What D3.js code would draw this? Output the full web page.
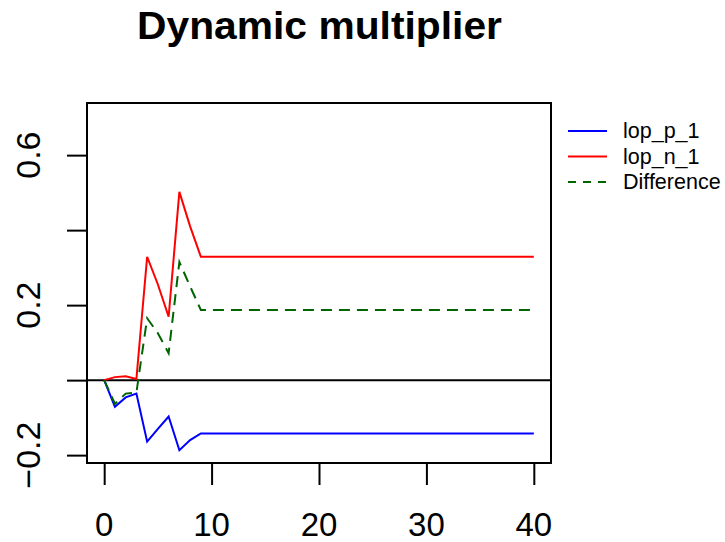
<!DOCTYPE html>
<html>
<meta charset="utf-8">
<head>
  <title>Dynamic multiplier</title>
</head>

<style>
body { margin: 0; background: white; }
text { font-family: "Liberation Sans", Arial, sans-serif; fill: black; }
.axis path, .axis line { stroke: black; stroke-width: 2; }
</style>

<body>
  <svg width="725" height="542"></svg>

  <script src="https://cdnjs.cloudflare.com/ajax/libs/d3/7.8.5/d3.min.js"></script>
  <script>
var horizon = d3.range(0, 41);

var lopP = [0, -0.071, -0.046, -0.036, -0.164, -0.130, -0.097, -0.187, -0.160, -0.142,
  -0.142, -0.142, -0.142, -0.142, -0.142, -0.142, -0.142, -0.142, -0.142, -0.142,
  -0.142, -0.142, -0.142, -0.142, -0.142, -0.142, -0.142, -0.142, -0.142, -0.142,
  -0.142, -0.142, -0.142, -0.142, -0.142, -0.142, -0.142, -0.142, -0.142, -0.142, -0.142];

var lopN = [0, 0.008, 0.010, 0.003, 0.329, 0.255, 0.169, 0.502, 0.410, 0.329,
  0.329, 0.329, 0.329, 0.329, 0.329, 0.329, 0.329, 0.329, 0.329, 0.329,
  0.329, 0.329, 0.329, 0.329, 0.329, 0.329, 0.329, 0.329, 0.329, 0.329,
  0.329, 0.329, 0.329, 0.329, 0.329, 0.329, 0.329, 0.329, 0.329, 0.329, 0.329];

var diff = [0, -0.063, -0.036, -0.033, 0.165, 0.125, 0.072, 0.315, 0.250, 0.187,
  0.187, 0.187, 0.187, 0.187, 0.187, 0.187, 0.187, 0.187, 0.187, 0.187,
  0.187, 0.187, 0.187, 0.187, 0.187, 0.187, 0.187, 0.187, 0.187, 0.187,
  0.187, 0.187, 0.187, 0.187, 0.187, 0.187, 0.187, 0.187, 0.187, 0.187, 0.187];

var xTicks = [0, 10, 20, 30, 40];
var yTicks = [-0.2, 0, 0.2, 0.4, 0.6];
var yLabels = [-0.2, 0.2, 0.6];

var series = [
  {name: "lop_p_1", values: lopP, color: "#0000ff", dash: null},
  {name: "lop_n_1", values: lopN, color: "#ff0000", dash: null},
  {name: "Difference", values: diff, color: "#006400", dash: "11,7"}
];

var box = {left: 87, right: 551, top: 103, bottom: 463};

var x = d3.scaleLinear().domain([-1.6, 41.6]).range([box.left, box.right]);
var y = d3.scaleLinear().domain([-0.221, 0.739]).range([box.bottom, box.top]);

var svg = d3.select('svg');

// title
svg.append('text')
  .attr('x', 319.5)
  .attr('y', 39)
  .attr('text-anchor', 'middle')
  .attr('textLength', 365)
  .attr('lengthAdjust', 'spacingAndGlyphs')
  .style('font-size', '39px')
  .style('font-weight', 'bold')
  .text('Dynamic multiplier');

// zero line
svg.append('line')
  .attr('x1', box.left).attr('x2', box.right)
  .attr('y1', y(0)).attr('y2', y(0))
  .attr('stroke', 'black')
  .attr('stroke-width', 2);

var line = d3.line()
  .x(function(d, i) { return x(horizon[i]); })
  .y(function(d) { return y(d); });

svg.selectAll('path.series')
  .data(series)
  .enter()
  .append('path')
  .attr('class', 'series')
  .attr('fill', 'none')
  .attr('stroke', function(d) { return d.color; })
  .attr('stroke-width', 2)
  .attr('stroke-dasharray', function(d) { return d.dash; })
  .attr('d', function(d) { return line(d.values); });

// plot box
svg.append('rect')
  .attr('x', box.left).attr('y', box.top)
  .attr('width', box.right - box.left)
  .attr('height', box.bottom - box.top)
  .attr('fill', 'none')
  .attr('stroke', 'black')
  .attr('stroke-width', 2);

// x axis
var xAxis = svg.append('g')
  .attr('class', 'axis')
  .attr('transform', 'translate(0,' + box.bottom + ')')
  .call(d3.axisBottom(x).tickValues(xTicks).tickSize(22).tickFormat(''));
xAxis.select('.domain').remove();

svg.selectAll('text.xlab')
  .data(xTicks)
  .enter()
  .append('text')
  .attr('class', 'xlab')
  .attr('x', function(d) { return x(d); })
  .attr('y', 536)
  .attr('text-anchor', 'middle')
  .style('font-size', '33px')
  .text(function(d) { return d; });

// y axis
var yAxis = svg.append('g')
  .attr('class', 'axis')
  .attr('transform', 'translate(' + box.left + ',0)')
  .call(d3.axisLeft(y).tickValues(yTicks).tickSize(20).tickFormat(''));
yAxis.select('.domain').remove();

svg.selectAll('text.ylab')
  .data(yLabels)
  .enter()
  .append('text')
  .attr('class', 'ylab')
  .attr('transform', function(d) { return 'translate(40,' + y(d) + ') rotate(-90)'; })
  .attr('text-anchor', 'middle')
  .style('font-size', '34px')
  .text(function(d) { return d3.format('.1f')(d); });

// legend
var legend = svg.selectAll('g.legend')
  .data(series)
  .enter()
  .append('g')
  .attr('class', 'legend')
  .attr('transform', function(d, i) { return 'translate(568,' + (131 + i * 25.5) + ')'; });

legend.append('line')
  .attr('x1', 0).attr('x2', 39)
  .attr('stroke', function(d) { return d.color; })
  .attr('stroke-width', 2)
  .attr('stroke-dasharray', function(d) { return d.dash ? '8,7' : null; });

legend.append('text')
  .attr('x', 55)
  .attr('y', 7)
  .style('font-size', '21.5px')
  .text(function(d) { return d.name; });
  </script>
</body>
</html>
